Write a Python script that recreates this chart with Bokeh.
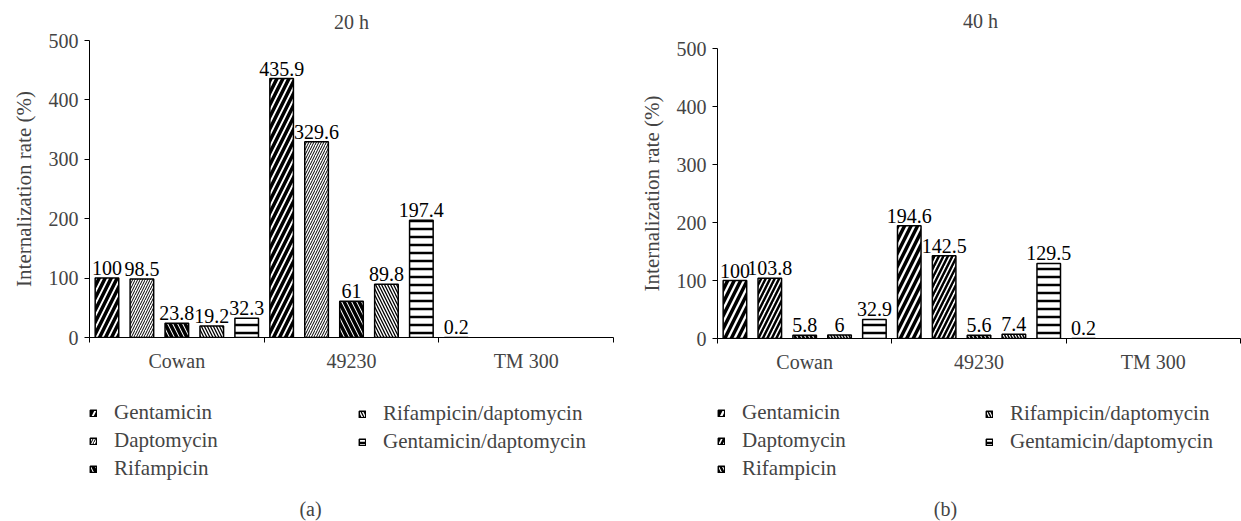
from bokeh.plotting import figure
from bokeh.models import (ColumnDataSource, Range1d, FixedTicker, SingleIntervalTicker,
                          Legend, LegendItem, LinearAxis, Label, Title)
from bokeh.layouts import row, column
from bokeh.transform import dodge
from bokeh.embed import file_html
from bokeh.resources import INLINE
from bokeh.core.properties import value

# ---------------- data ----------------
strains = ["Cowan", "49230", "TM 300"]
drugs = ["Gentamicin", "Daptomycin", "Rifampicin", "Rifampicin/daptomycin", "Gentamicin/daptomycin"]

gentamicin_20h = [100, 435.9, 0.2]
daptomycin_20h = [98.5, 329.6, None]
rifampicin_20h = [23.8, 61, None]
rifdap_20h = [19.2, 89.8, None]
gentdap_20h = [32.3, 197.4, None]

gentamicin_40h = [100, 194.6, 0.2]
daptomycin_40h = [103.8, 142.5, None]
rifampicin_40h = [5.8, 5.6, None]
rifdap_40h = [6, 7.4, None]
gentdap_40h = [32.9, 129.5, None]

y_max = 500

FONT = "Liberation Serif"

# styles (pattern, scale, weight) per drug, per panel
styles_a = [("/", 12, 3.5), ("/", 5, 1.0), ("\\", 10, 3.5), ("\\", 6, 1.3), ("-", 8, 2.5)]
styles_b = [("/", 13, 3.5), ("/", 9, 2.5), ("\\", 8, 2.5), ("\\", 6, 1.5), ("-", 8, 2.5)]
offsets = [-0.4, -0.2, 0.0, 0.2, 0.4]


def fmt(v):
    return f"{v:g}"


def bar_style(pat, sc, wt):
    return dict(fill_color="white", line_color="black", line_width=1.5,
                hatch_pattern=pat, hatch_scale=sc, hatch_weight=wt, hatch_color="black")


def bare_figure(width, height):
    q = figure(width=width, height=height, output_backend="svg", toolbar_location=None,
               x_range=Range1d(0, 1), y_range=Range1d(0, 1), min_border=0,
               x_axis_type=None, y_axis_type=None, title=None)
    q.outline_line_color = None
    q.grid.visible = False
    return q


def make_title(text, width, height, cx, cy):
    q = bare_figure(width, height)
    q.add_layout(Label(x=cx, y=cy, x_units="screen", y_units="screen", text=text,
                       text_align="center", text_baseline="middle", text_font=FONT,
                       text_font_size="20px"))
    return q


def make_panel(series, styles, width, height, bl, br, bt, bb, title=None, title_standoff=0):
    p = figure(width=width, height=height, output_backend="svg", toolbar_location=None,
               x_range=Range1d(0, len(strains)), y_range=Range1d(0, y_max),
               min_border_left=bl, min_border_right=br, min_border_top=bt, min_border_bottom=bb,
               x_axis_type=None, title=None)
    p.outline_line_color = None
    p.grid.visible = False
    p.background_fill_color = "white"
    p.border_fill_color = "white"
    if title is not None:
        p.add_layout(Title(text=title, align="center", text_font=FONT, text_font_size="20px",
                           text_font_style="normal", standoff=title_standoff), "above")

    centers = [i + 0.5 for i in range(len(strains))]
    sources = []
    for vals, off, st in zip(series, offsets, styles):
        ys = [float("nan") if v is None else v for v in vals]
        src = ColumnDataSource(dict(x=centers, top=ys))
        sources.append(src)
        p.vbar(x=dodge("x", off), top="top", bottom=0, width=0.135, source=src, **bar_style(*st))
        lx = [c for c, v in zip(centers, vals) if v is not None]
        ly = [v for v in vals if v is not None]
        lt = [fmt(v) for v in vals if v is not None]
        tsrc = ColumnDataSource(dict(x=lx, y=ly, t=lt))
        p.text(x=dodge("x", off), y="y", text="t", source=tsrc, text_align="center",
               text_baseline="bottom", y_offset=-3, text_font=value(FONT),
               text_font_size="20px", text_color="black")

    yax = p.yaxis[0]
    yax.ticker = SingleIntervalTicker(interval=100)
    yax.axis_label = "Internalization rate (%)"
    yax.axis_label_text_font = FONT
    yax.axis_label_text_font_style = "normal"
    yax.axis_label_text_font_size = "21px"
    yax.axis_label_standoff = 10
    yax.major_label_text_font = FONT
    yax.major_label_text_font_size = "20px"
    yax.major_tick_out = 5
    yax.major_tick_in = 0
    yax.minor_tick_line_color = None
    yax.major_label_standoff = 6
    yax.axis_line_color = "black"

    xax = LinearAxis(ticker=FixedTicker(ticks=centers, minor_ticks=list(range(len(strains) + 1))))
    xax.major_label_overrides = {c: s for c, s in zip(centers, strains)}
    xax.major_tick_line_color = None
    xax.major_tick_out = 0
    xax.major_tick_in = 0
    xax.minor_tick_out = 5
    xax.minor_tick_in = 0
    xax.minor_tick_line_color = "black"
    xax.major_label_standoff = 7
    xax.major_label_text_font = FONT
    xax.major_label_text_font_size = "20px"
    xax.axis_line_color = "black"
    p.add_layout(xax, "below")
    return p, sources


def make_legend(styles, sources, caption, width, height, col1_x, col2_x, col1_y, col2_y, cap_x, cap_y):
    q = bare_figure(width, height)
    items = []
    for d, st, src, off in zip(drugs, styles, sources, offsets):
        r = q.vbar(x=dodge("x", off), top="top", width=0.135, source=src, visible=False,
                   **bar_style(*st))
        items.append(LegendItem(label=d, renderers=[r]))
    common = dict(orientation="vertical", glyph_width=8, glyph_height=8, label_standoff=17,
                  label_height=24, spacing=3, padding=0, margin=0, border_line_color=None,
                  background_fill_alpha=0, inactive_fill_alpha=0,
                  label_text_font=FONT, label_text_font_size="21px")
    q.add_layout(Legend(items=items[:3], location=(col1_x, col1_y), **common), "center")
    q.add_layout(Legend(items=items[3:], location=(col2_x, col2_y), **common), "center")
    q.add_layout(Label(x=cap_x, y=cap_y, x_units="screen", y_units="screen", text=caption,
                       text_align="center", text_baseline="middle", text_font=FONT,
                       text_font_size="20px"))
    return q


pa, src_a = make_panel([gentamicin_20h, daptomycin_20h, rifampicin_20h, rifdap_20h, gentdap_20h],
                       styles_a, 620, 385, 89, 7, 38, 48, title="20 h", title_standoff=16)
tb = make_title("40 h", 621, 32, 263, 12)
pb, src_b = make_panel([gentamicin_40h, daptomycin_40h, rifampicin_40h, rifdap_40h, gentdap_40h],
                       styles_b, 621, 353, 97, 1, 16, 47)
la = make_legend(styles_a, src_a, "(a)", 620, 136, 0, 269, 40, 67, 221, 13)
lb = make_legend(styles_b, src_b, "(b)", 621, 136, 0, 268, 40, 67, 228, 13)

layout = row(column(pa, la), column(tb, pb, lb))
open("out.html", "w").write(file_html(layout, INLINE))
